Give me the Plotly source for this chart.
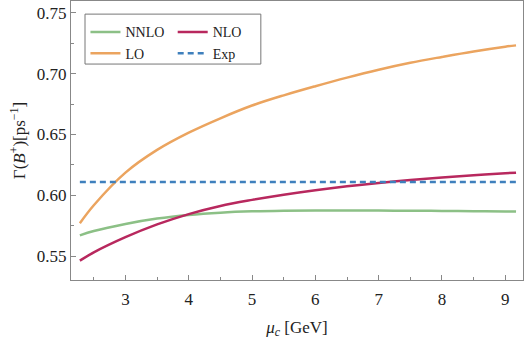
import plotly.graph_objects as go

# renormalisation scale mu_c in GeV
mu_c = [2.28, 2.5, 3.0, 3.5, 4.0, 4.5, 5.0, 5.5, 6.0, 6.5, 7.0, 7.5, 8.0, 8.5, 9.0, 9.17]

gamma_lo = [0.577, 0.5918, 0.6186, 0.6373, 0.6515, 0.6633, 0.6738, 0.6822, 0.6897, 0.6968,
            0.7033, 0.7090, 0.7138, 0.7183, 0.7222, 0.7233]
gamma_nlo = [0.5462, 0.5530, 0.5655, 0.5760, 0.5845, 0.5912, 0.5962, 0.6005, 0.6042, 0.6074,
             0.6101, 0.6125, 0.6146, 0.6165, 0.6181, 0.6186]
gamma_nnlo = [0.567, 0.5706, 0.5764, 0.5808, 0.5838, 0.5857, 0.5868, 0.5873, 0.5875, 0.5875,
              0.5874, 0.5873, 0.5871, 0.5869, 0.5867, 0.5866]
gamma_exp = 0.611

font_family = "Liberation Serif, DejaVu Serif, Times New Roman, serif"

fig = go.Figure()

fig.add_trace(go.Scatter(x=mu_c, y=gamma_nnlo, name="NNLO", mode="lines",
                         line=dict(color="#8cc086", width=2.5, shape="spline"),
                         legend="legend"))
fig.add_trace(go.Scatter(x=mu_c, y=gamma_lo, name="LO", mode="lines",
                         line=dict(color="#eba45f", width=2.5, shape="spline"),
                         legend="legend"))
fig.add_trace(go.Scatter(x=mu_c, y=gamma_nlo, name="NLO", mode="lines",
                         line=dict(color="#b8285e", width=2.5, shape="spline"),
                         legend="legend2"))
fig.add_trace(go.Scatter(x=[mu_c[0], mu_c[-1]], y=[gamma_exp, gamma_exp], name="Exp", mode="lines",
                         line=dict(color="#3f80bd", width=2.5, dash="6px,4px"),
                         legend="legend2"))

axis_common = dict(
    showline=True, linecolor="#888", linewidth=1, mirror=True,
    ticks="inside", ticklen=5, tickcolor="#888",
    showgrid=False, zeroline=False,
    tickfont=dict(family=font_family, size=17, color="#222"),
)

legend_common = dict(
    bgcolor="rgba(0,0,0,0)", borderwidth=0,
    font=dict(family=font_family, size=14, color="#222"),
    xanchor="left", yanchor="top", tracegroupgap=0,
)

fig.update_layout(
    width=525, height=343,
    margin=dict(l=71, r=2, t=1, b=63),
    paper_bgcolor="white", plot_bgcolor="white",
    font=dict(family=font_family, color="#222"),
    xaxis=dict(
        axis_common, range=[2.14, 9.28], tick0=3, dtick=1, ticklabelstandoff=4,
        minor=dict(ticks="inside", ticklen=3, dtick=0.5, tickcolor="#888", showgrid=False),
        title=dict(text="<i>μ</i><sub><i>c</i></sub> [GeV]",
                   font=dict(family=font_family, size=17, color="#222"), standoff=12),
    ),
    yaxis=dict(
        axis_common, range=[0.5303, 0.7598], tick0=0.55, dtick=0.05, tickformat=".2f",
        minor=dict(ticks="inside", ticklen=3, dtick=0.025, tickcolor="#888", showgrid=False),
        title=dict(text="Γ(<i>B</i><sup>+</sup>)[ps<sup>−1</sup>]",
                   font=dict(family=font_family, size=17, color="#222"), standoff=6),
    ),
    legend=dict(legend_common, x=0.032, y=0.945),
    legend2=dict(legend_common, x=0.225, y=0.945),
    shapes=[dict(type="rect", xref="paper", yref="paper",
                 x0=0.031, x1=0.42, y0=0.774, y1=0.953,
                 line=dict(color="#777", width=1), fillcolor="white", layer="below")],
)

fig.write_html("out.html", config={"displayModeBar": False},
               post_script="document.body.style.margin='0';")
